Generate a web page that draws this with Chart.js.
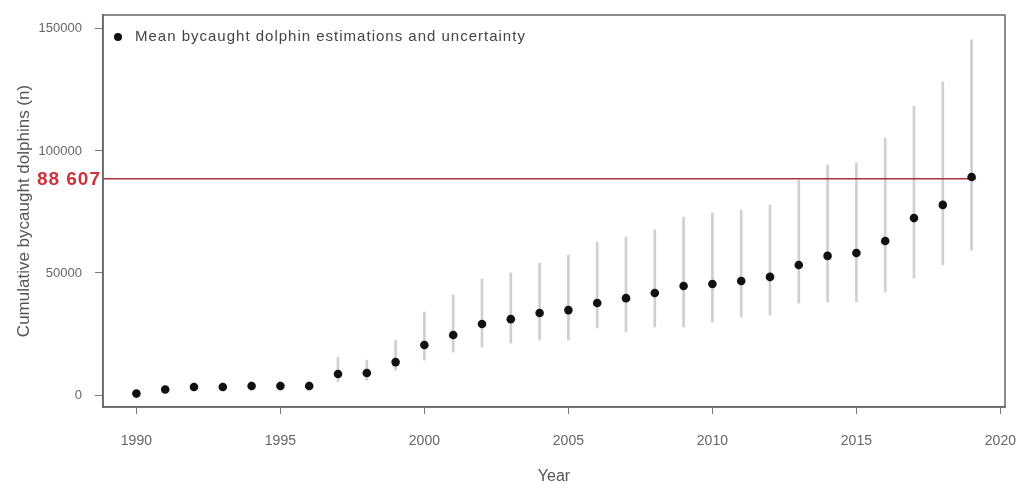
<!DOCTYPE html>
<html>
<head>
<meta charset="utf-8">
<script src="https://cdn.jsdelivr.net/npm/chart.js@4/dist/chart.umd.min.js"></script>
<style>
  html, body { margin: 0; padding: 0; background: #fff; }
  #wrap { width: 1017px; height: 490px; }
</style>
</head>
<body>
<div id="wrap"><canvas id="dolphinChart" width="1017" height="490"></canvas></div>
<script>
// values
const years = [1990, 1991, 1992, 1993, 1994, 1995, 1996, 1997, 1998, 1999,
               2000, 2001, 2002, 2003, 2004, 2005, 2006, 2007, 2008, 2009,
               2010, 2011, 2012, 2013, 2014, 2015, 2016, 2017, 2018, 2019];
const meanBycatch = [600, 2300, 3300, 3300, 3700, 3700, 3700, 8600, 9000, 13500,
                     20500, 24600, 29100, 31100, 33600, 34800, 37700, 39700, 41800, 44700,
                     45500, 46700, 48400, 53300, 57000, 58200, 63100, 72500, 77900, 89300];
const lowerBound = [0, 1200, 1800, 1800, 2000, 2000, 2000, 5500, 6100, 10200,
                    14300, 17600, 19700, 21300, 22500, 22500, 27500, 25800, 27900, 27900,
                    29900, 32000, 32800, 37700, 38100, 38100, 42200, 47900, 53300, 59400];
const upperBound = [1500, 3800, 5000, 5000, 5500, 5500, 5500, 15500, 14300, 22500,
                    34000, 41000, 47500, 50000, 54100, 57400, 62700, 64700, 67600, 72900,
                    74600, 75800, 77900, 88100, 94300, 95100, 105300, 118400, 128300, 145500];
const thresholdValue = 88607;
const thresholdLabel = '88 607';
const legendText = 'Mean bycaught dolphin estimations and uncertainty';
const xTicks = [1990, 1995, 2000, 2005, 2010, 2015, 2020];
const yTicks = [0, 50000, 100000, 150000];

const xMin = 1988.84, xMax = 2020.16;
const yMin = -4900, yMax = 155700;
const fontFamily = '"Liberation Sans", Arial, sans-serif';

// R-like box, threshold label and in-plot legend
const boxAndLabel = {
    id: 'boxAndLabel',
    afterDatasetsDraw(chart) {
        const { ctx, chartArea, scales } = chart;
        ctx.save();
        ctx.strokeStyle = '#666';
        ctx.lineWidth = 1.5;
        ctx.strokeRect(chartArea.left, chartArea.top, chartArea.right - chartArea.left, chartArea.bottom - chartArea.top);

        ctx.letterSpacing = '1px';
        const y = scales.y.getPixelForValue(thresholdValue);
        ctx.fillStyle = '#d0303c';
        ctx.font = 'bold 19px ' + fontFamily;
        ctx.textAlign = 'right';
        ctx.textBaseline = 'middle';
        ctx.fillText(thresholdLabel, chartArea.left - 2, y + 1);

        ctx.fillStyle = '#111';
        ctx.beginPath();
        ctx.arc(chartArea.left + 15, chartArea.top + 22, 4, 0, Math.PI * 2);
        ctx.fill();
        ctx.fillStyle = '#444';
        ctx.font = '15px ' + fontFamily;
        ctx.textAlign = 'left';
        ctx.fillText(legendText, chartArea.left + 32, chartArea.top + 22);
        ctx.restore();
    }
};

new Chart(document.getElementById('dolphinChart'), {
    type: 'bar',
    data: {
        datasets: [{
            type: 'bar',
            label: 'uncertainty',
            data: years.map((x, i) => ({ x: x, y: [lowerBound[i], upperBound[i]] })),
            backgroundColor: '#cfcfcf',
            barThickness: 2,
            order: 3
        }, {
            type: 'scatter',
            label: legendText,
            data: years.map((x, i) => ({ x: x, y: meanBycatch[i] })),
            backgroundColor: '#111',
            borderColor: '#111',
            borderWidth: 0,
            pointRadius: 4.3,
            order: 1
        }, {
            type: 'line',
            label: 'threshold',
            data: [{ x: xMin, y: thresholdValue }, { x: 2019.15, y: thresholdValue }],
            borderColor: '#a8323c',
            borderWidth: 1.5,
            pointRadius: 0,
            order: 2
        }]
    },
    options: {
        responsive: false,
        animation: false,
        layout: { padding: { left: 10, top: 15, right: 12, bottom: 0 } },
        plugins: {
            legend: { display: false },
            tooltip: { enabled: false }
        },
        scales: {
            x: {
                type: 'linear',
                offset: false,
                min: xMin,
                max: xMax,
                afterBuildTicks: s => { s.ticks = xTicks.map(v => ({ value: v })); },
                afterFit: s => { s.height = 83; s.paddingLeft = 0; s.paddingRight = 0; },
                grid: { display: true, offset: false, drawOnChartArea: false, drawTicks: true, tickLength: 7, color: '#777' },
                border: { display: true, color: '#666', width: 1.5 },
                ticks: {
                    padding: 19,
                    maxRotation: 0,
                    color: '#666',
                    font: { size: 14, family: fontFamily },
                    callback: v => String(v)
                },
                title: {
                    display: true,
                    text: 'Year',
                    color: '#555',
                    font: { size: 16, family: fontFamily }
                }
            },
            y: {
                min: yMin,
                max: yMax,
                afterBuildTicks: s => { s.ticks = yTicks.map(v => ({ value: v })); },
                afterFit: s => { s.width = 93; s.paddingTop = 0; s.paddingBottom = 0; },
                grid: { display: true, drawOnChartArea: false, drawTicks: true, tickLength: 8, color: '#777' },
                border: { display: true, color: '#666', width: 1.5 },
                ticks: {
                    padding: 13,
                    color: '#666',
                    font: { size: 13, family: fontFamily },
                    callback: v => String(v)
                },
                title: {
                    display: true,
                    text: 'Cumulative bycaught dolphins (n)',
                    color: '#555',
                    font: { size: 17, family: fontFamily }
                }
            }
        }
    },
    plugins: [boxAndLabel]
});
</script>
</body>
</html>
